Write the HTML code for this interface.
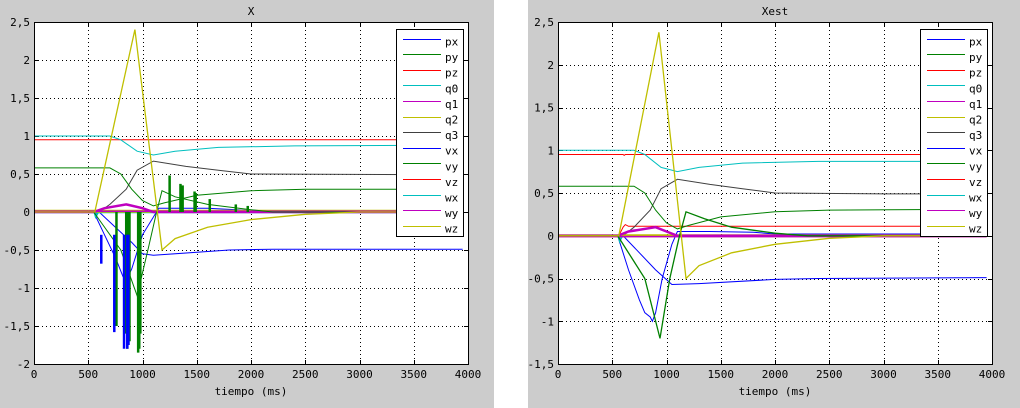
<!DOCTYPE html>
<html><head><meta charset="utf-8">
<style>
html,body{margin:0;padding:0;background:#fff;}
#wrap{position:relative;width:1020px;height:408px;background:#fff;overflow:hidden;}
svg text{font-family:"DejaVu Sans Mono","Liberation Mono",monospace;font-size:11px;fill:#000;}
</style></head>
<body>
<div id="wrap">
<svg id="svg" width="1020" height="408" xmlns="http://www.w3.org/2000/svg">
<rect x="0" y="0" width="494" height="408" fill="#cccccc"/>
<rect x="528" y="0" width="492" height="408" fill="#cccccc"/>
</svg>
</div>
<script>
const xTicks = [0,500,1000,1500,2000,2500,3000,3500,4000];
const yTicksL = [-2,-1.5,-1,-0.5,0,0.5,1,1.5,2,2.5];
const yTicksR = [-1.5,-1,-0.5,0,0.5,1,1.5,2,2.5];
const yTickLabelsL = ["-2","-1.5","-1","-0.5","0","0.5","1","1.5","2","2.5"];
const yTickLabelsR = ["-1.5","-1","-0.5","0","0.5","1","1.5","2","2.5"];
const legendNames = ["px","py","pz","q0","q1","q2","q3","vx","vy","vz","wx","wy","wz"];
const legendColors = ["#0000ff","#008000","#ff0000","#00bfbf","#bf00bf","#bfbf00","#404040","#0000ff","#008000","#ff0000","#00bfbf","#bf00bf","#bfbf00"];

const L_pz_t=[0,3950], L_pz_v=[0.95,0.95];
const L_vz_t=[0,3950], L_vz_v=[0.01,0.01];
const L_q0_t=[0,700,800,950,1100,1300,1700,2400,3950], L_q0_v=[1,1,0.95,0.8,0.75,0.8,0.85,0.87,0.88];
const L_q3_t=[0,600,700,850,950,1100,1400,1700,2000,3950], L_q3_v=[0,0,0.1,0.3,0.55,0.67,0.6,0.55,0.5,0.49];
const L_py_t=[0,700,800,900,1000,1100,1200,1500,2000,2500,3950], L_py_v=[0.58,0.58,0.5,0.3,0.15,0.08,0.12,0.22,0.28,0.3,0.3];
const L_vy_t=[0,550,800,950,1050,1130,1180,1300,1600,2000,2200,3950], L_vy_v=[0,0,-0.5,-1.1,-0.5,0,0.28,0.2,0.1,0.03,0,0];
const L_px_t=[0,550,650,750,820,850,900,1000,1150,1600,2000,3950], L_px_v=[0,0,-0.3,-0.6,-0.85,-0.9,-0.75,-0.3,0.05,0.05,0.02,0.02];
const L_vx_t=[0,600,750,900,1000,1100,1800,2200,3950], L_vx_v=[0,0,-0.2,-0.4,-0.55,-0.57,-0.5,-0.49,-0.49];
const L_q2_t=[0,560,930,1180,1300,1600,2000,2500,3000,3950], L_q2_v=[0,0,2.4,-0.5,-0.35,-0.2,-0.1,-0.03,0,0];
const L_q1_t=[0,550,650,850,1000,1100,3950], L_q1_v=[0,0,0.05,0.1,0.05,0,0];
const L_wz_t=[0,3950], L_wz_v=[0.01,0.01];
const L_wy_t=[0,3950], L_wy_v=[0.01,0.01];
const L_wx_t=[0,560,570,590,3950], L_wx_v=[0,0,-0.05,0,0];
const L_spk_vy_t=[760,850,860,870,880,960,970,980,1250,1350,1370,1480,1490,1620,1860,1970];
const L_spk_vy_v=[-1.5,-1.6,-1.8,-1.75,-1.7,-1.85,-1.8,-1.6,0.48,0.37,0.35,0.27,0.25,0.17,0.1,0.08];
const L_spk_vx_t=[620,740,830,860,870];
const L_spk_vx_v=[-0.68,-1.58,-1.8,-1.8,-1.75];

const R_pz_t=[0,600,610,620,3950], R_pz_v=[0.95,0.95,0.94,0.95,0.95];
const R_vz_t=[0,560,600,620,650,3950], R_vz_v=[0,0,0.1,0.13,0.11,0.11];
const R_q0_t=[0,700,800,950,1100,1300,1700,2400,3950], R_q0_v=[1,1,0.95,0.8,0.75,0.8,0.85,0.87,0.87];
const R_q3_t=[0,600,700,850,950,1100,1400,1700,2000,3000,3950], R_q3_v=[0,0,0.1,0.3,0.55,0.66,0.6,0.55,0.5,0.49,0.49];
const R_py_t=[0,700,800,900,1000,1100,1200,1500,2000,2500,3950], R_py_v=[0.58,0.58,0.5,0.3,0.15,0.08,0.12,0.22,0.28,0.3,0.31];
const R_vy_t=[0,550,800,940,1030,1120,1180,1350,1600,2000,2300,3950], R_vy_v=[0,0,-0.5,-1.2,-0.5,0,0.28,0.2,0.1,0.03,0,0];
const R_px_t=[0,550,650,750,800,850,870,900,960,1050,1100,1400,1800,2000,3950], R_px_v=[0,0,-0.4,-0.75,-0.9,-0.95,-1.0,-0.9,-0.5,-0.1,0.05,0.05,0.04,0.02,0.02];
const R_vx_t=[0,600,750,900,1050,1300,2000,2400,3950], R_vx_v=[0,0,-0.2,-0.4,-0.57,-0.56,-0.51,-0.5,-0.49];
const R_q2_t=[0,560,930,1180,1300,1600,2000,2500,3000,3950], R_q2_v=[0,0,2.38,-0.5,-0.35,-0.2,-0.1,-0.03,0,0];
const R_q1_t=[0,550,650,900,1000,1100,3950], R_q1_v=[0,0,0.05,0.1,0.05,0,0];
const R_wz_t=[0,3950], R_wz_v=[0.0,0.0];
const R_wy_t=[0,3950], R_wy_v=[-0.01,-0.01];
const R_wx_t=[0,560,570,590,3950], R_wx_v=[0,0,-0.05,0,0];

const NS="http://www.w3.org/2000/svg";
const svg=document.getElementById('svg');
function mk(tag,attrs,parent){const e=document.createElementNS(NS,tag);for(const k in attrs)e.setAttribute(k,attrs[k]);(parent||svg).appendChild(e);return e;}

function chart(cfg){
  const g=mk('g',{});
  
  
  const X=t=>cfg.x0+(t-0)/(4000-0)*(cfg.x1-cfg.x0);
  const Y=v=>cfg.y1-(v-cfg.ymin)/(cfg.ymax-cfg.ymin)*(cfg.y1-cfg.y0);
  const bg=mk('rect',{x:cfg.x0,y:cfg.y0,width:cfg.x1-cfg.x0,height:cfg.y1-cfg.y0,fill:'#fff'},g);
  
  
  xTicks.forEach((t,i)=>{
    const x=Math.round(X(t))+0.5;
    if(i>0&&i<xTicks.length-1){const l=mk('line',{x1:x,x2:x,y1:cfg.y0,y2:cfg.y1,stroke:'#000','stroke-dasharray':'1,3','stroke-width':1,'shape-rendering':'crispEdges'},g);
      }
    mk('line',{x1:x,x2:x,y1:cfg.y1,y2:cfg.y1-4,stroke:'#000'},g);
    mk('line',{x1:x,x2:x,y1:cfg.y0,y2:cfg.y0+4,stroke:'#000'},g);
    const tx=mk('text',{x:X(t),y:cfg.y1+14,'text-anchor':'middle'},g);tx.textContent=String(t);
    
  });
  cfg.yt.forEach((v,i)=>{
    const y=Math.round(Y(v))+0.5;
    if(i>0&&i<cfg.yt.length-1){const l=mk('line',{x1:cfg.x0,x2:cfg.x1,y1:y,y2:y,stroke:'#000','stroke-dasharray':'1,3','stroke-width':1,'shape-rendering':'crispEdges'},g);
      }
    mk('line',{x1:cfg.x0,x2:cfg.x0+4,y1:y,y2:y,stroke:'#000'},g);
    mk('line',{x1:cfg.x1,x2:cfg.x1-4,y1:y,y2:y,stroke:'#000'},g);
    const tx=mk('text',{x:cfg.x0-4,y:Y(v)+4,'text-anchor':'end'},g);tx.textContent=cfg.ytl[i].replace('.',',');
    
  });
  cfg.series.forEach(s=>{
    const pts=s.t.map((t,i)=>X(t).toFixed(1)+','+Y(s.v[i]).toFixed(1)).join(' ');
    const p=mk('polyline',{points:pts,fill:'none',stroke:s.c,'stroke-width':s.w||1},g);
    
    
  });
  (cfg.spikes||[]).forEach(s=>{
    s.t.forEach((t,i)=>{
      const l=mk('line',{x1:X(t),x2:X(t),y1:Y(s.base),y2:Y(s.v[i]),stroke:s.c,'stroke-width':2.5},g);
      
      
    });
  });
  const fr=mk('rect',{x:cfg.x0+0.5,y:cfg.y0+0.5,width:cfg.x1-cfg.x0,height:cfg.y1-cfg.y0,fill:'none',stroke:'#000'},g);
  
  const lg=mk('g',{},g);
  
  
  mk('rect',{x:cfg.lx+0.5,y:29.5,width:67,height:207,fill:'#fff',stroke:'#000'},lg);
  legendNames.forEach((n,i)=>{
    const y=38.5+i*15.6;
    const e=mk('g',{},lg);
    
    
    mk('rect',{x:cfg.lx+7,y:Math.round(y),width:38,height:1,fill:legendColors[i],'shape-rendering':'crispEdges'},e);
    const tx=mk('text',{x:cfg.lx+49,y:y+7},e);tx.textContent=n;
  });
  const ti=mk('text',{x:(cfg.x0+cfg.x1)/2,y:15,'text-anchor':'middle'},g);ti.textContent=cfg.title;
  
  const xl=mk('text',{x:(cfg.x0+cfg.x1)/2,y:395,'text-anchor':'middle'},g);xl.textContent='tiempo (ms)';
  
}

chart({name:'chart-x',title:'X',x0:34,x1:468,y0:22,y1:364,ymin:-2,ymax:2.5,yt:yTicksL,ytl:yTickLabelsL,lx:396,
 series:[
  {n:'pz',t:L_pz_t,v:L_pz_v,c:'#ff0000'},
  {n:'vz',t:L_vz_t,v:L_vz_v,c:'#ff0000'},
  {n:'q0',t:L_q0_t,v:L_q0_v,c:'#00bfbf'},
  {n:'q3',t:L_q3_t,v:L_q3_v,c:'#404040'},
  {n:'py',t:L_py_t,v:L_py_v,c:'#008000'},
  {n:'px',t:L_px_t,v:L_px_v,c:'#0000ff'},
  {n:'vx',t:L_vx_t,v:L_vx_v,c:'#0000ff'},
  {n:'wx',t:L_wx_t,v:L_wx_v,c:'#00bfbf',w:2.5},
  {n:'wz',t:L_wz_t,v:L_wz_v,c:'#bfbf00',w:3},
  {n:'wy',t:L_wy_t,v:L_wy_v,c:'#bf00bf',w:1.5},
  {n:'q1',t:L_q1_t,v:L_q1_v,c:'#bf00bf',w:2.5},
  {n:'vy',t:L_vy_t,v:L_vy_v,c:'#008000'},
  {n:'q2',t:L_q2_t,v:L_q2_v,c:'#bfbf00',w:1.3}
 ],
 spikes:[{n:'vy',t:L_spk_vy_t,v:L_spk_vy_v,c:'#008000',base:0},{n:'vx',t:L_spk_vx_t,v:L_spk_vx_v,c:'#0000ff',base:-0.3}]
});
chart({name:'chart-xest',title:'Xest',x0:558,x1:992,y0:22,y1:364,ymin:-1.5,ymax:2.5,yt:yTicksR,ytl:yTickLabelsR,lx:920,
 series:[
  {n:'pz',t:R_pz_t,v:R_pz_v,c:'#ff0000'},
  {n:'vz',t:R_vz_t,v:R_vz_v,c:'#ff0000'},
  {n:'q0',t:R_q0_t,v:R_q0_v,c:'#00bfbf'},
  {n:'q3',t:R_q3_t,v:R_q3_v,c:'#404040'},
  {n:'py',t:R_py_t,v:R_py_v,c:'#008000'},
  {n:'px',t:R_px_t,v:R_px_v,c:'#0000ff'},
  {n:'vx',t:R_vx_t,v:R_vx_v,c:'#0000ff'},
  {n:'wx',t:R_wx_t,v:R_wx_v,c:'#00bfbf',w:2.5},
  {n:'wz',t:R_wz_t,v:R_wz_v,c:'#bfbf00',w:3},
  {n:'wy',t:R_wy_t,v:R_wy_v,c:'#bf00bf',w:1.5},
  {n:'q1',t:R_q1_t,v:R_q1_v,c:'#bf00bf',w:2.5},
  {n:'vy',t:R_vy_t,v:R_vy_v,c:'#008000',w:1.3},
  {n:'q2',t:R_q2_t,v:R_q2_v,c:'#bfbf00',w:1.3}
 ]
});
</script>
</body></html>
